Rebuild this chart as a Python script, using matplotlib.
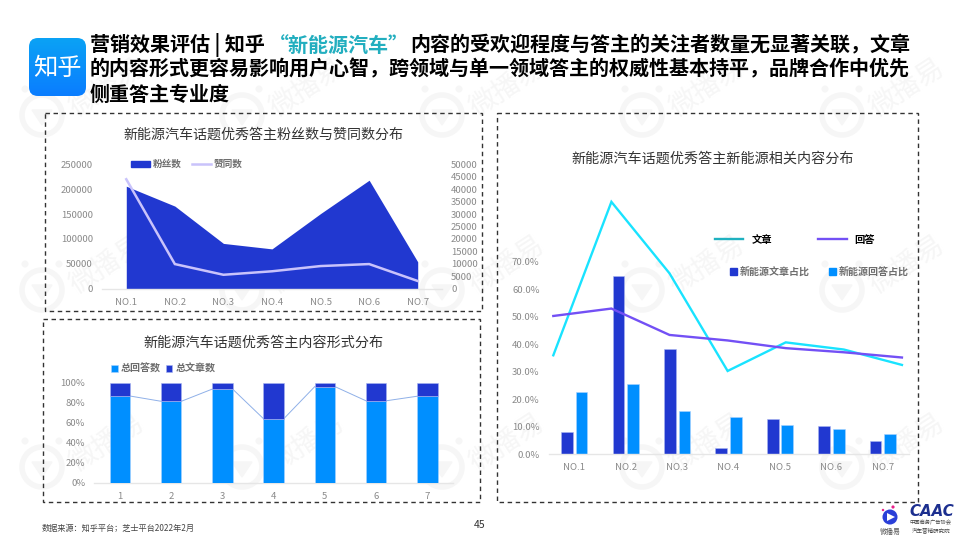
import numpy as np
import matplotlib
matplotlib.use("Agg")
import matplotlib.pyplot as plt
from matplotlib.patches import FancyBboxPatch, Rectangle, Circle, Polygon, Patch
from matplotlib.lines import Line2D

plt.rcParams['font.family'] = ['Noto Sans CJK SC', 'DejaVu Sans']

# ---------- data ----------
no_labels = ['NO.1', 'NO.2', 'NO.3', 'NO.4', 'NO.5', 'NO.6', 'NO.7']
fans = [206000, 166000, 91000, 80000, 151000, 218000, 54000]
likes = [44000, 9900, 5600, 7000, 9100, 9900, 3100]
fan_ticks = [0, 50000, 100000, 150000, 200000, 250000]
like_ticks = [0, 5000, 10000, 15000, 20000, 25000, 30000, 35000, 40000, 45000, 50000]

form_labels = ['1', '2', '3', '4', '5', '6', '7']
answer_share = [86.7, 81.5, 93.6, 64.2, 96.0, 82.0, 86.5]
article_share = [13.3, 18.5, 6.4, 35.8, 4.0, 18.0, 13.5]
form_ticks = [0, 20, 40, 60, 80, 100]

article_bar = [8.1, 64.7, 38.3, 2.3, 12.8, 10.2, 4.7]
answer_bar = [22.6, 25.4, 15.7, 13.6, 10.8, 9.2, 7.5]
article_line = [36.0, 91.8, 65.8, 30.3, 40.7, 38.1, 32.5]
answer_line = [50.3, 53.0, 43.4, 41.4, 38.6, 37.1, 35.2]
pct_ticks = [0, 10, 20, 30, 40, 50, 60, 70]

# ---------- colours ----------
DARK = '#2138d0'
BLUE = '#008fff'
CYAN = '#19e3ff'
PURPLE = '#7350f5'
LAV = '#c9c3fb'
TICK = '#8a8a8a'
AXIS = '#e6e6e6'
LEG = '#6e6e6e'
TITLE = '#333333'
WM = '#f6f6f6'
TICK_FS = 6.9

W, H = 960, 540
fig = plt.figure(figsize=(9.6, 5.4), dpi=100, facecolor='white')


def axes_px(x0, y0, x1, y1, **kw):
    """Axes from pixel box with top-left origin."""
    return fig.add_axes([x0 / W, 1 - y1 / H, (x1 - x0) / W, (y1 - y0) / H], **kw)


# ---------- page layer (pixel coordinates) ----------
bg = fig.add_axes([0, 0, 1, 1], zorder=0)
bg.set_xlim(0, W)
bg.set_ylim(H, 0)
bg.axis('off')

# watermark
for ky, ly in enumerate([115, 290, 467]):
    for kx in range(5):
        lx = 42 + 200 * kx
        bg.add_patch(Circle((lx, ly), 20, fc='none', ec=WM, lw=4.0, zorder=1))
        bg.add_patch(Polygon([(lx - 10, ly - 5), (lx + 10, ly - 5), (lx, ly + 10)], fc=WM, ec=WM, zorder=1))
        bg.add_patch(Circle((lx - 17, ly - 26), 3.5, fc=WM, ec='none', zorder=1))
        bg.add_patch(Circle((lx + 17, ly - 26), 3.5, fc=WM, ec='none', zorder=1))
for ty in [88, 265, 443]:
    for kx in range(5):
        bg.text(107 + 200 * kx, ty, '微播易', fontsize=20, color=WM, rotation=33,
                ha='center', va='center', zorder=1)

# dashed boxes
for (x0, y0, x1, y1) in [(45, 112.7, 481.7, 311), (43.3, 319, 480, 502.3), (496.7, 112.7, 918, 502.3)]:
    bg.add_patch(Rectangle((x0, y0), x1 - x0, y1 - y0, fc='none', ec='#333333',
                           lw=1.0, ls=(0, (3.2, 2.6)), zorder=2))

# app icon with gradient
icon = FancyBboxPatch((29 + 9, 38 + 9), 57 - 18, 58 - 18, boxstyle='round,pad=9', fc='none', ec='none', zorder=3)
bg.add_patch(icon)
grad = np.linspace(0, 1, 64).reshape(-1, 1)
cmap = matplotlib.colors.LinearSegmentedColormap.from_list('ic', ['#0ba2f5', '#0a7dff'])
im = bg.imshow(grad, extent=(29, 86, 96, 38), cmap=cmap, aspect='auto', zorder=3)
im.set_clip_path(icon)
bg.set_xlim(0, W)
bg.set_ylim(H, 0)
bg.text(57.5, 68, '知乎', color='white', fontsize=17.5, fontweight='medium', ha='center', va='center', zorder=4)

# headline
TFS = 14.45
for xp, part, col in [(90, '营销效果评估 | 知乎', 'black'), (269, '“新能源汽车”', '#22aebf'),
                      (410, '内容的受欢迎程度与答主的关注者数量无显著关联，文章', 'black')]:
    bg.text(xp, 45, part, fontsize=TFS, fontweight='bold', color=col, ha='left', va='center', zorder=4)
bg.text(90, 69, '的内容形式更容易影响用户心智，跨领域与单一领域答主的权威性基本持平，品牌合作中优先',
        fontsize=TFS, fontweight='bold', color='black', ha='left', va='center', zorder=4)
bg.text(90, 94, '侧重答主专业度', fontsize=TFS, fontweight='bold', color='black', ha='left', va='center', zorder=4)

# chart titles
bg.text(263, 135, '新能源汽车话题优秀答主粉丝数与赞同数分布', fontsize=10.1, color=TITLE, ha='center', va='center', zorder=4)
bg.text(263, 343, '新能源汽车话题优秀答主内容形式分布', fontsize=10.15, color=TITLE, ha='center', va='center', zorder=4)
bg.text(713, 159, '新能源汽车话题优秀答主新能源相关内容分布', fontsize=10.15, color=TITLE, ha='center', va='center', zorder=4)

# footer
bg.text(42, 528, '数据来源：知乎平台；芝士平台2022年2月', fontsize=5.9, color='#444444', ha='left', va='center', zorder=4)
bg.text(480, 525, '45', fontsize=7.5, color='#333333', ha='center', va='center', zorder=4)

# footer logos
bg.add_patch(Circle((890, 517), 7.5, fc='#2a3fd8', ec='none', zorder=4))
bg.add_patch(Polygon([(887, 513), (895, 517), (887, 521)], fc='white', ec='none', zorder=5))
bg.add_patch(Circle((893, 507), 1.6, fc='#e8208a', ec='none', zorder=5))
bg.add_patch(Circle((883, 510), 1.2, fc='#e8208a', ec='none', zorder=5))
bg.text(890, 532, '微播易', fontsize=5, color='#555555', ha='center', va='center', zorder=4)
bg.text(931.5, 512, 'CAAC', fontsize=10.8, fontweight='bold', style='italic', color='#1c2f8f',
        family='DejaVu Sans', ha='center', va='center', zorder=4)
bg.text(931, 523, '中国商务广告协会', fontsize=3.8, color='#444444', ha='center', va='center', zorder=4)
bg.text(931, 530.5, '汽车营销研究院', fontsize=4, color='#444444', ha='center', va='center', zorder=4)


def style_axes(ax):
    ax.patch.set_alpha(0)
    for s in ax.spines.values():
        s.set_visible(False)
    ax.spines['bottom'].set_visible(True)
    ax.spines['bottom'].set_color(AXIS)
    ax.spines['bottom'].set_linewidth(1.0)
    ax.tick_params(axis='both', length=0, labelsize=TICK_FS, labelcolor=TICK)


# ---------- chart 1: area + line ----------
ax1 = axes_px(102, 164.3, 442, 288.7, zorder=2)
style_axes(ax1)
xs = np.arange(len(no_labels))
ax1.fill_between(xs, fans, 0, color=DARK, lw=0)
ax1.set_xlim(-0.5, 6.5)
ax1.set_ylim(0, 250000)
ax1.set_xticks(xs, no_labels)
ax1.set_yticks(fan_ticks, [str(v) for v in fan_ticks])
ax1.tick_params(axis='y', pad=6.5)
ax1.tick_params(axis='x', pad=6.5)

ax1r = ax1.twinx()
style_axes(ax1r)
ax1r.spines['bottom'].set_visible(False)
l1, = ax1r.plot(xs, likes, color=LAV, lw=1.8, label='赞同数', solid_joinstyle='miter')
ax1r.set_ylim(0, 50000)
ax1r.set_yticks(like_ticks, [str(v) for v in like_ticks])
ax1r.tick_params(axis='y', pad=6.5)
ax1r.set_zorder(3)
ax1r.legend(handles=[Patch(color=DARK, label='粉丝数'), l1], loc='center left',
            bbox_to_anchor=(131 / W, 1 - 164 / H), bbox_transform=fig.transFigure,
            ncol=2, frameon=False, labelcolor=LEG, handlelength=2.0, handleheight=0.6,
            handletextpad=0.3, columnspacing=1.0, borderpad=0, borderaxespad=0,
            prop={'size': 6.95, 'weight': 'bold'})

# ---------- chart 2: stacked bars ----------
ax2 = axes_px(94.3, 382.7, 453, 483, zorder=2)
style_axes(ax2)
xs2 = np.arange(len(form_labels))
w2 = 0.4
ax2.bar(xs2, answer_share, width=w2, color=BLUE, edgecolor='#a9d3ff', lw=0.4, label='总回答数', zorder=3)
ax2.bar(xs2, article_share, bottom=answer_share, width=w2, color=DARK, edgecolor='#a9b5f0', lw=0.4,
        label='总文章数', zorder=3)
for i in range(len(xs2) - 1):
    ax2.plot([xs2[i] + w2 / 2, xs2[i + 1] - w2 / 2], [answer_share[i], answer_share[i + 1]],
             color='#8fb0e8', lw=0.7, zorder=2)
ax2.set_xlim(-0.5, 6.5)
ax2.set_ylim(0, 100)
ax2.set_xticks(xs2, form_labels)
ax2.set_yticks(form_ticks, [f'{v}%' for v in form_ticks])
ax2.tick_params(axis='y', pad=6.5)
ax2.tick_params(axis='x', pad=6.5)
ax2.legend(loc='center left', bbox_to_anchor=(111 / W, 1 - 369 / H), bbox_transform=fig.transFigure,
           ncol=2, frameon=False, labelcolor=LEG, handlelength=0.65, handleheight=0.65,
           handletextpad=0.35, columnspacing=0.45, borderpad=0, borderaxespad=0,
           prop={'size': 7.2, 'weight': 'bold'})

# ---------- chart 3: grouped bars + overlay lines ----------
ax3 = axes_px(548.6, 179.3, 908.5, 454.3, zorder=2)
style_axes(ax3)
xs3 = np.arange(len(no_labels))
bw = 11.7 / 51.4
off = 7.3 / 51.4
ax3.bar(xs3 - off, article_bar, width=bw, color=DARK, edgecolor='#a9b5f0', lw=0.4)
ax3.bar(xs3 + off, answer_bar, width=bw, color=BLUE, edgecolor='#a9d3ff', lw=0.4)
ax3.set_xlim(-0.5, 6.5)
ax3.set_ylim(0, 100)
ax3.set_xticks(xs3, no_labels)
ax3.set_yticks(pct_ticks, [f'{v:.1f}%' for v in pct_ticks])
ax3.tick_params(axis='y', pad=6.5)
ax3.tick_params(axis='x', pad=6.5)

ax3b = ax3.twiny()
style_axes(ax3b)
ax3b.spines['bottom'].set_visible(False)
ax3b.plot(xs3, article_line, color=CYAN, lw=1.7, solid_joinstyle='miter', zorder=3)
ax3b.plot(xs3, answer_line, color=PURPLE, lw=1.7, solid_joinstyle='miter', zorder=4)
ax3b.set_xlim(-0.081, 6.113)
ax3b.set_xticks([])

leg_a = ax3b.legend(handles=[Line2D([], [], color='#1fb1c0', lw=1.7, label='文章'),
                             Line2D([], [], color=PURPLE, lw=1.7, label='回答')],
                    loc='center left', bbox_to_anchor=(715 / W, 1 - 240 / H), bbox_transform=fig.transFigure,
                    ncol=2, frameon=False, handlelength=2.75, handletextpad=0.8,
                    columnspacing=4.5, borderpad=0, borderaxespad=0,
                    prop={'size': 7.4, 'weight': 'bold'})
ax3b.add_artist(leg_a)
ax3b.legend(handles=[Patch(color=DARK, label='新能源文章占比'), Patch(color=BLUE, label='新能源回答占比')],
            loc='center left', bbox_to_anchor=(730 / W, 1 - 272 / H), bbox_transform=fig.transFigure,
            ncol=2, frameon=False, labelcolor=LEG, handlelength=0.65, handleheight=0.65,
            handletextpad=0.35, columnspacing=1.9, borderpad=0, borderaxespad=0,
            prop={'size': 7.2, 'weight': 'bold'})

fig.savefig('out.png', dpi=100, facecolor='white')
